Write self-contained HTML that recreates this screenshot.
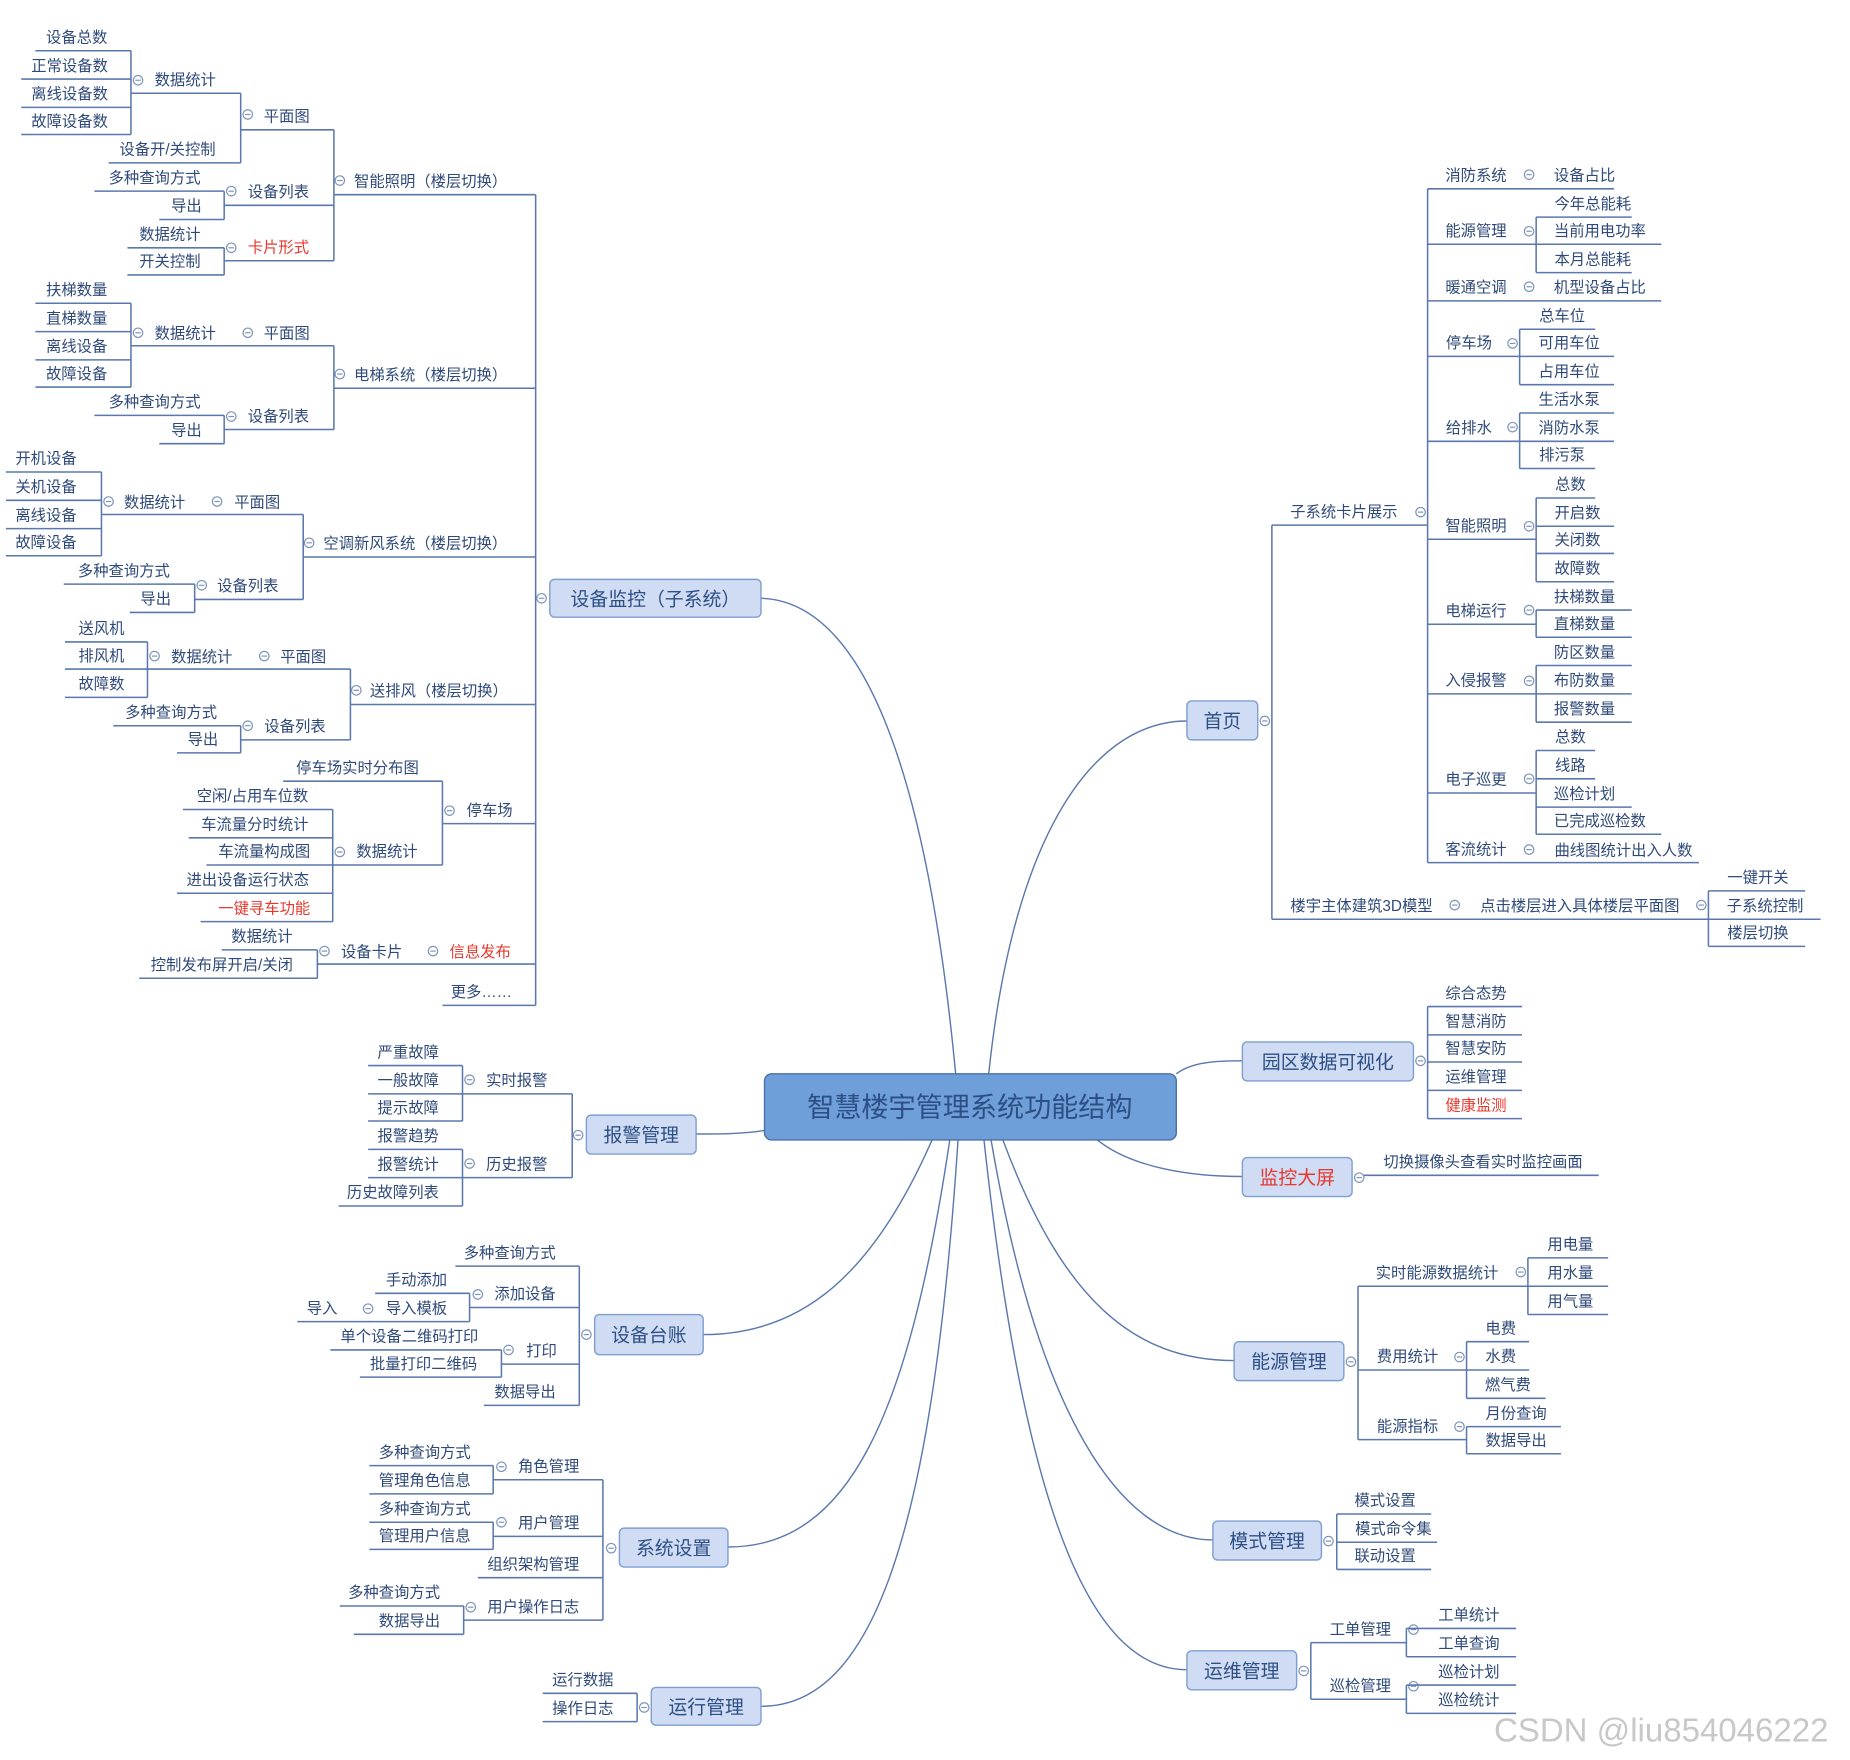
<!DOCTYPE html>
<html><head><meta charset="utf-8">
<style>
html,body{margin:0;padding:0;background:#fff;width:1850px;height:1760px;overflow:hidden}
svg{display:block}
text{font-family:"Liberation Sans","Noto Sans CJK SC",sans-serif}
</style></head>
<body>
<svg id="s" width="1850" height="1760" viewBox="0 0 1568 1491.5" preserveAspectRatio="none" xmlns="http://www.w3.org/2000/svg">
<g fill="none" stroke="#5a78ad" stroke-width="1.2">
<path d="M810 910 C790 700,745 510,645 507"/>
<path d="M838 910 C860 700,930 611,1006 611"/>
<path d="M997 910 C1010 900,1030 899,1053 899"/>
<path d="M930 966 C960 990,1010 997,1053 997"/>
<path d="M850 966 C900 1100,960 1153,1046 1153"/>
<path d="M840 966 C880 1200,950 1305,1028 1305"/>
<path d="M834 966 C870 1300,930 1415,1006 1415"/>
<path d="M648 958 C630 961,610 961,590 961"/>
<path d="M790 966 C740 1080,680 1131,596 1131"/>
<path d="M805 966 C770 1200,720 1311,617 1311"/>
<path d="M812 966 C790 1300,740 1446,645 1446"/>
</g>
<g id="g"></g>
<rect x="648" y="910" width="349" height="56" rx="6" fill="#6f9fd8" stroke="#4a70a8" stroke-width="1.2"/>
<text x="822" y="946" font-size="23" fill="#2d4f86" text-anchor="middle">智慧楼宇管理系统功能结构</text>
<g id="b"></g>
<text x="1408" y="1476" font-size="28" fill="#c8c8c8" text-anchor="middle">CSDN @liu854046222</text>
</svg>
<script>
var NS="http://www.w3.org/2000/svg",G=document.getElementById("g"),B=document.getElementById("b");
function el(p,n,a,t){var e=document.createElementNS(NS,n);for(var k in a)e.setAttribute(k,a[k]);if(t)e.textContent=t;p.appendChild(e);return e}
function H(x1,x2,y){el(G,"line",{x1:x1,x2:x2,y1:y,y2:y,stroke:"#5a78ad","stroke-width":1.3})}
function V(x,y1,y2){el(G,"line",{x1:x,x2:x,y1:y1,y2:y2,stroke:"#5a78ad","stroke-width":1.3})}
function C(x,y){el(G,"circle",{cx:x,cy:y,r:4,fill:"#fff",stroke:"#7d93bb","stroke-width":1});el(G,"line",{x1:x-2.3,x2:x+2.3,y1:y,y2:y,stroke:"#7d93bb","stroke-width":1})}
function T(t,x,y,red){el(G,"text",{x:x,y:y+5,"font-size":13,fill:red?"#e8382e":"#2f4a7a","text-anchor":"middle"},t)}
function u(x1,x2,y,t,tx,red){H(x1,x2,y);if(t)T(t,tx==null?(x1+x2)/2:tx,y-12,red)}
function box(x1,y1,x2,y2,t,red){el(B,"rect",{x:x1,y:y1,width:x2-x1,height:y2-y1,rx:4,fill:"#cfdcf3",stroke:"#7f9fd0","stroke-width":1.2});el(B,"text",{x:(x1+x2)/2,y:(y1+y2)/2+6,"font-size":16,fill:red?"#e8382e":"#2d4f86","text-anchor":"middle"},t)}
V(454,165,852);H(454,460,507);C(459,507);
u(283,454,165,"智能照明（楼层切换）",365);C(288,153);V(283,110,221);
u(204,283,110,"平面图",243);C(210,97);V(204,79,138);
u(111,204,79,"数据统计",157);C(117,68);V(111,43,114);
u(30,111,43,"设备总数",65);u(18,111,67,"正常设备数",59);u(18,111,91,"离线设备数",59);u(18,111,114,"故障设备数",59);
u(92,204,138,"设备开/关控制",142);
u(190,283,174,"设备列表",236);C(196,162);V(190,162,186);u(80,190,162,"多种查询方式",131);u(135,190,186,"导出",158);
u(190,283,221,"卡片形式",236,1);C(196,210);V(190,210,233);u(108,190,210,"数据统计",144);u(108,190,233,"开关控制",144);
u(283,454,329,"电梯系统（楼层切换）",365);C(288,317);V(283,293,364);
u(111,283,293,"");T("数据统计",157,282);C(117,282);T("平面图",243,282);C(210,282);V(111,257,328);
u(30,111,257,"扶梯数量",65);u(30,111,281,"直梯数量",65);u(30,111,305,"离线设备",65);u(30,111,328,"故障设备",65);
u(190,283,364,"设备列表",236);C(196,353);V(190,352,376);u(80,190,352,"多种查询方式",131);u(135,190,376,"导出",158);
u(257,454,472,"空调新风系统（楼层切换）",352);C(262,460);V(257,436,508);
u(86,257,436,"");T("数据统计",131,425);C(92,425);T("平面图",218,425);C(184,425);V(86,400,471);
u(5,86,400,"开机设备",39);u(5,86,424,"关机设备",39);u(5,86,448,"离线设备",39);u(5,86,471,"故障设备",39);
u(165,257,508,"设备列表",210);C(171,496);V(165,495,519);u(54,165,495,"多种查询方式",105);u(110,165,519,"导出",132);
u(297,454,597,"送排风（楼层切换）",372);C(302,585);V(297,567,627);
u(125,297,567,"");T("数据统计",171,556);C(131,556);T("平面图",257,556);C(224,556);V(125,544,591);
u(55,125,544,"送风机",86);u(55,125,567,"排风机",86);u(55,125,591,"故障数",86);
u(204,297,627,"设备列表",250);C(210,615);V(204,615,638);u(96,204,615,"多种查询方式",145);u(150,204,638,"导出",172);
u(375,454,698,"停车场",415);C(381,687);V(375,662,733);
u(240,375,662,"停车场实时分布图",303);
u(282,375,733,"数据统计",328);C(288,722);V(282,686,781);
u(155,282,686,"空闲/占用车位数",214);u(160,282,710,"车流量分时统计",216);u(175,282,733,"车流量构成图",224);u(150,282,757,"进出设备运行状态",210);u(170,282,781,"一键寻车功能",224,1);
u(269,454,817,"");T("信息发布",407,806,1);C(367,806);T("设备卡片",315,806);C(275,806);V(269,805,829);
u(188,269,805,"数据统计",222);u(118,269,829,"控制发布屏开启/关闭",188);
u(375,454,852,"更多……",408);
C(490,962);V(485,927,998);
u(392,485,927,"实时报警",438);C(398,915);V(392,903,950);
u(312,392,903,"严重故障",346);u(312,392,927,"一般故障",346);u(312,392,950,"提示故障",346);
u(392,485,998,"历史报警",438);C(398,986);V(392,974,1022);
u(312,392,974,"报警趋势",346);u(312,392,998,"报警统计",346);u(287,392,1022,"历史故障列表",333);
C(497,1131);V(491,1073,1191);
u(386,491,1073,"多种查询方式",432);
u(398,491,1108,"添加设备",445);C(405,1097);V(398,1096,1120);
u(318,398,1096,"手动添加",353);u(318,398,1120,"导入模板",353);C(312,1109);u(252,318,1120,"导入",273);
u(425,491,1156,"打印",459);C(431,1144);V(425,1144,1167);
u(280,425,1144,"单个设备二维码打印",347);u(305,425,1167,"批量打印二维码",359);
u(410,491,1191,"数据导出",445);
C(518,1312);V(511,1254,1373);
u(418,511,1254,"角色管理",465);C(425,1243);V(418,1242,1266);u(313,418,1242,"多种查询方式",360);u(313,418,1266,"管理角色信息",360);
u(418,511,1302,"用户管理",465);C(425,1290);V(418,1290,1313);u(313,418,1290,"多种查询方式",360);u(313,418,1313,"管理用户信息",360);
u(405,511,1337,"组织架构管理",452);
u(393,511,1373,"用户操作日志",452);C(399,1362);V(393,1361,1385);u(288,393,1361,"多种查询方式",334);u(300,393,1385,"数据导出",347);
C(546,1447);V(540,1435,1459);u(460,540,1435,"运行数据",494);u(460,540,1459,"操作日志",494);
C(1072,611);V(1078,445,779);
u(1078,1210,445,"子系统卡片展示",1139);C(1204,434);V(1210,160,731);
u(1210,1368,160,"消防系统",1251);C(1296,148);T("设备占比",1343,148);
u(1210,1302,207,"能源管理",1251);C(1296,196);V(1302,184,231);u(1302,1383,184,"今年总能耗",1350);u(1302,1408,207,"当前用电功率",1356);u(1302,1383,231,"本月总能耗",1350);
u(1210,1408,255,"暖通空调",1251);C(1296,243);T("机型设备占比",1356,243);
u(1210,1288,302,"停车场",1245);C(1282,291);V(1288,279,326);u(1288,1352,279,"总车位",1324);u(1288,1368,302,"可用车位",1330);u(1288,1368,326,"占用车位",1330);
u(1210,1288,374,"给排水",1245);C(1282,362);V(1288,350,397);u(1288,1368,350,"生活水泵",1330);u(1288,1368,374,"消防水泵",1330);u(1288,1352,397,"排污泵",1324);
u(1210,1302,457,"智能照明",1251);C(1296,446);V(1302,422,493);u(1302,1352,422,"总数",1331);u(1302,1368,446,"开启数",1337);u(1302,1368,469,"关闭数",1337);u(1302,1368,493,"故障数",1337);
u(1210,1302,529,"电梯运行",1251);C(1296,517);V(1302,517,540);u(1302,1383,517,"扶梯数量",1343);u(1302,1383,540,"直梯数量",1343);
u(1210,1302,588,"入侵报警",1251);C(1296,577);V(1302,564,612);u(1302,1383,564,"防区数量",1343);u(1302,1383,588,"布防数量",1343);u(1302,1383,612,"报警数量",1343);
u(1210,1302,672,"电子巡更",1251);C(1296,660);V(1302,636,707);u(1302,1352,636,"总数",1331);u(1302,1352,660,"线路",1331);u(1302,1383,684,"巡检计划",1343);u(1302,1408,707,"已完成巡检数",1356);
u(1210,1440,731,"客流统计",1251);C(1296,720);T("曲线图统计出入人数",1376,720);
u(1078,1448,779,"楼宇主体建筑3D模型",1154);C(1233,767);T("点击楼层进入具体楼层平面图",1339,767);C(1442,767);V(1448,755,802);
u(1448,1530,755,"一键开关",1490);u(1448,1543,779,"子系统控制",1496);u(1448,1530,802,"楼层切换",1490);
C(1204,899);V(1210,853,948);
u(1210,1290,853,"综合态势",1251);u(1210,1290,877,"智慧消防",1251);u(1210,1290,900,"智慧安防",1251);u(1210,1290,924,"运维管理",1251);u(1210,1290,948,"健康监测",1251,1);
C(1152,998);u(1156,1355,996,"切换摄像头查看实时监控画面",1257);
C(1145,1154);V(1151,1090,1220);
u(1151,1295,1090,"实时能源数据统计",1218);C(1289,1078);V(1295,1066,1114);u(1295,1363,1066,"用电量",1331);u(1295,1363,1090,"用水量",1331);u(1295,1363,1114,"用气量",1331);
u(1151,1243,1161,"费用统计",1193);C(1237,1150);V(1243,1137,1185);u(1243,1296,1137,"电费",1272);u(1243,1296,1161,"水费",1272);u(1243,1310,1185,"燃气费",1278);
u(1151,1243,1220,"能源指标",1193);C(1237,1209);V(1243,1209,1232);u(1243,1323,1209,"月份查询",1285);u(1243,1323,1232,"数据导出",1285);
C(1126,1306);V(1133,1283,1330);u(1133,1213,1283,"模式设置",1174);u(1133,1218,1307,"模式命令集",1181);u(1133,1213,1330,"联动设置",1174);
C(1105,1416);V(1111,1392,1440);
u(1111,1192,1392,"工单管理",1153);C(1198,1381);V(1192,1380,1404);u(1192,1285,1380,"工单统计",1245);u(1192,1285,1404,"工单查询",1245);
u(1111,1192,1440,"巡检管理",1153);C(1198,1429);V(1192,1428,1452);u(1192,1285,1428,"巡检计划",1245);u(1192,1285,1452,"巡检统计",1245);
box(466,491,645,523,"设备监控（子系统）");
box(497,945,590,978,"报警管理");
box(504,1114,596,1148,"设备台账");
box(525,1295,617,1328,"系统设置");
box(552,1430,645,1462,"运行管理");
box(1006,594,1066,627,"首页");
box(1053,883,1198,916,"园区数据可视化");
box(1053,981,1146,1014,"监控大屏",1);
box(1046,1137,1139,1170,"能源管理");
box(1028,1289,1120,1322,"模式管理");
box(1006,1399,1099,1432,"运维管理");
</script>
</body></html>
